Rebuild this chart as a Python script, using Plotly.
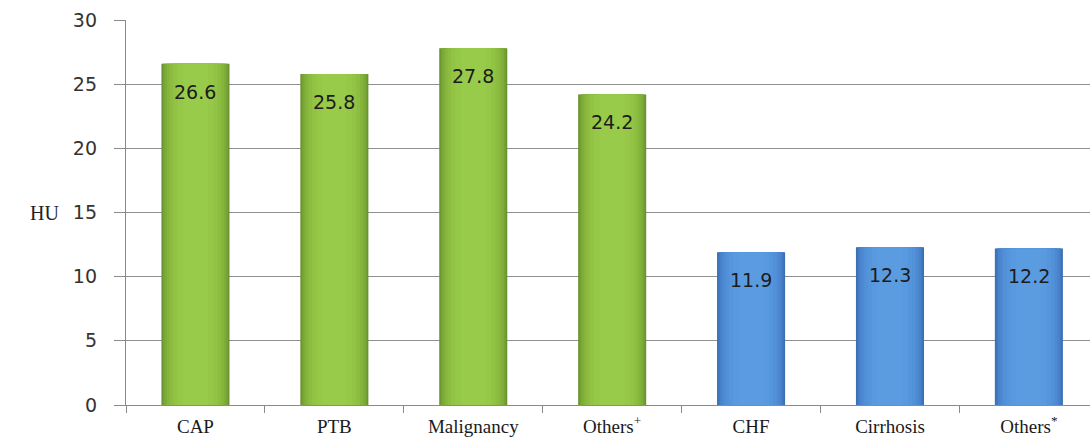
import plotly.graph_objects as go

# Mean attenuation (HU) by diagnosis
categories = ["CAP", "PTB", "Malignancy", "Others<sup>+</sup>", "CHF", "Cirrhosis", "Others<sup>*</sup>"]
hu_values = [26.6, 25.8, 27.8, 24.2, 11.9, 12.3, 12.2]
group = ["exudate", "exudate", "exudate", "exudate", "transudate", "transudate", "transudate"]
y_ticks = [0, 5, 10, 15, 20, 25, 30]

# shading layers (outer edge -> centre) per group, giving a rounded bar look
shades = {
    "exudate": ["#6a9330", "#74a034", "#7eac38", "#86b53c", "#8dbd40", "#92c344", "#96c848", "#99cb4b"],
    "transudate": ["#3b6fb0", "#4279c0", "#4883cb", "#4d8ad3", "#5290d8", "#5595dc", "#5899df", "#5b9ce1"],
}
widths = [0.49, 0.47, 0.445, 0.41, 0.37, 0.32, 0.26, 0.18]

fig = go.Figure()
for layer, w in enumerate(widths):
    fig.add_trace(go.Bar(
        x=categories,
        y=hu_values,
        width=w,
        marker=dict(color=[shades[g][layer] for g in group], line=dict(width=0)),
        hoverinfo="skip" if layer else "x+y",
        showlegend=False,
    ))

# value labels just below each bar top
for cat, v in zip(categories, hu_values):
    fig.add_annotation(
        x=cat, y=v, xref="x", yref="y", text=f"{v:.1f}",
        showarrow=False, yanchor="middle", yshift=-28,
        font=dict(family="DejaVu Sans", size=19, color="#1c1c1c"),
    )

fig.add_annotation(
    x=-0.085, y=15, xref="paper", yref="y", text="HU", showarrow=False,
    xanchor="center", yanchor="middle",
    font=dict(family="Liberation Serif", size=20, color="#222222"),
)

fig.update_layout(
    width=1090, height=442,
    margin=dict(l=126, r=0, t=20, b=37),
    paper_bgcolor="white", plot_bgcolor="white",
    barmode="overlay",
    xaxis=dict(
        type="category",
        range=[-0.5, 6.44],
        showline=True, linecolor="#8a8a8a", linewidth=1.3,
        ticks="outside", tickson="boundaries", ticklen=7, tickcolor="#8a8a8a",
        ticklabelstandoff=4,
        tickfont=dict(family="Liberation Serif", size=19, color="#1a1a1a"),
        showgrid=False,
    ),
    yaxis=dict(
        range=[0, 30],
        tickvals=y_ticks,
        showline=True, linecolor="#8a8a8a", linewidth=1.3,
        ticks="outside", ticklen=11, tickcolor="#8a8a8a",
        ticklabelstandoff=13,
        tickfont=dict(family="DejaVu Sans", size=19, color="#333333"),
        showgrid=True, gridcolor="#8f8f8f", gridwidth=1,
        zeroline=False,
    ),
)

fig.write_html("out.html")
